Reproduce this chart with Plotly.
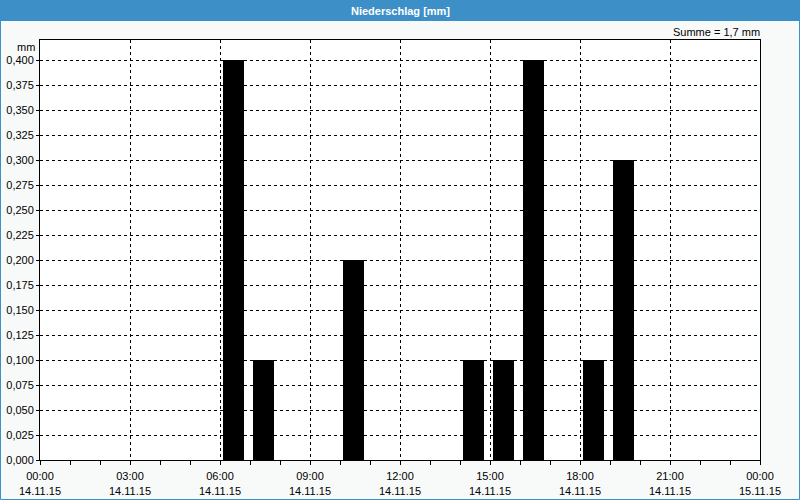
import plotly.graph_objects as go

# Data
times = ["2015-11-14 06:00", "2015-11-14 07:00", "2015-11-14 10:00", "2015-11-14 14:00",
         "2015-11-14 15:00", "2015-11-14 16:00", "2015-11-14 18:00", "2015-11-14 19:00"]
values = [0.4, 0.1, 0.2, 0.1, 0.1, 0.4, 0.1, 0.3]
tick_times = ["2015-11-14 00:00", "2015-11-14 03:00", "2015-11-14 06:00", "2015-11-14 09:00",
              "2015-11-14 12:00", "2015-11-14 15:00", "2015-11-14 18:00", "2015-11-14 21:00",
              "2015-11-15 00:00"]
tick_labels = ["00:00<br>14.11.15", "03:00<br>14.11.15", "06:00<br>14.11.15", "09:00<br>14.11.15",
               "12:00<br>14.11.15", "15:00<br>14.11.15", "18:00<br>14.11.15", "21:00<br>14.11.15",
               "00:00<br>15.11.15"]
title_text = "Niederschlag [mm]"
sum_text = "Summe = 1,7 mm"
unit_text = "mm"

W, H = 800, 500
L, R, T, B = 40, 40, 40, 40
PW, PH = W - L - R, H - T - B
MIN = 60000

def px_x(px):
    return (px - L) / PW

def px_y(py):
    return 1 - (py - T) / PH

FONT = "Liberation Sans, Arial, sans-serif"
BLUE = "#3d90c7"

fig = go.Figure()
fig.add_trace(go.Bar(
    x=times, y=values,
    offset=6 * MIN, width=42 * MIN,
    marker=dict(color="#000000", line=dict(width=0)),
    hoverinfo="x+y",
))

fig.update_layout(
    width=W, height=H,
    margin=dict(l=L, r=R, t=T, b=B, autoexpand=False),
    paper_bgcolor="#f8faf9",
    plot_bgcolor="#ffffff",
    separators=",.",
    showlegend=False,
    font=dict(family=FONT, size=11, color="#000000"),
    xaxis=dict(
        type="date", automargin=False,
        range=["2015-11-14 00:00", "2015-11-15 00:00"],
        tickvals=tick_times, ticktext=tick_labels,
        showgrid=True, gridcolor="#000000", griddash="3px,3px", gridwidth=1,
        ticks="outside", ticklen=4, tickcolor="#000000", ticklabelstandoff=2,
        minor=dict(dtick=3600000, ticks="outside", ticklen=4, tickcolor="#000000", showgrid=False),
        showline=True, linecolor="#000000", linewidth=1, mirror=True,
        zeroline=False, fixedrange=True,
        tickfont=dict(family=FONT, size=11),
    ),
    yaxis=dict(
        automargin=False,
        range=[0, 0.42],
        tick0=0, dtick=0.025, tickformat=".3f",
        showgrid=True, gridcolor="#000000", griddash="3px,3px", gridwidth=1,
        ticks="outside", ticklen=3, tickcolor="#000000",
        showline=True, linecolor="#000000", linewidth=1, mirror=True,
        zeroline=False, fixedrange=True,
        tickfont=dict(family=FONT, size=11),
    ),
    shapes=[
        dict(type="rect", xref="paper", yref="paper",
             x0=px_x(0), x1=px_x(800), y0=px_y(21), y1=px_y(0),
             fillcolor=BLUE, line=dict(width=0), layer="above"),
        dict(type="rect", xref="paper", yref="paper",
             x0=px_x(0.5), x1=px_x(799.5), y0=px_y(499.5), y1=px_y(20),
             fillcolor="rgba(0,0,0,0)", line=dict(color=BLUE, width=1), layer="above"),
    ],
    annotations=[
        dict(text="<b>" + title_text + "</b>", xref="paper", yref="paper",
             x=0.5, y=px_y(11), xanchor="center", yanchor="middle", showarrow=False,
             font=dict(family=FONT, size=11, color="#ffffff")),
        dict(text=sum_text, xref="paper", yref="paper",
             x=px_x(762), y=px_y(32), xanchor="right", yanchor="middle", showarrow=False,
             font=dict(family=FONT, size=11)),
        dict(text=unit_text, xref="paper", yref="paper",
             x=px_x(37), y=px_y(47), xanchor="right", yanchor="middle", showarrow=False,
             font=dict(family=FONT, size=11)),
    ],
)

fig.write_html("out.html", config=dict(displayModeBar=False))
